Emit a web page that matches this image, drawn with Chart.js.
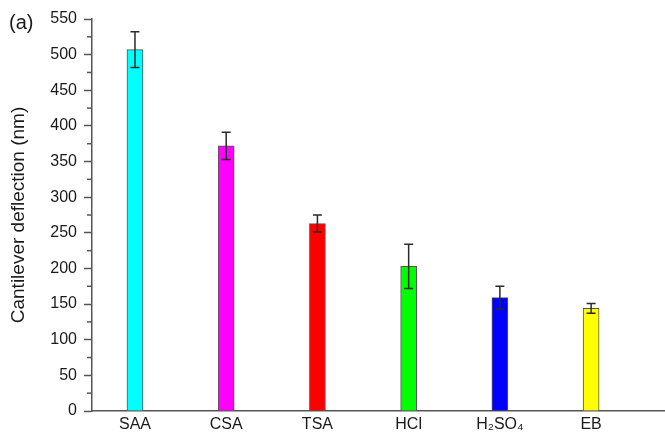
<!DOCTYPE html>
<html>
<head>
<meta charset="utf-8">
<script src="https://cdn.jsdelivr.net/npm/chart.js@4.4.0/dist/chart.umd.min.js"></script>
<style>
html,body{margin:0;padding:0;background:#fff;}
#wrap{width:665px;height:434px;position:relative;}
</style>
</head>
<body>
<div id="wrap"><canvas id="c" width="665" height="434"></canvas></div>
<script>
const categories = ['SAA', 'CSA', 'TSA', 'HCl', 'H\u2082SO\u2084', 'EB'];
const deflection = [507, 372, 263, 203, 159, 144];
const errors = [25, 19, 12, 31, 16, 7];
const colors = ['#00FFFF', '#FF00FF', '#FF0000', '#00FF00', '#0000FF', '#FFFF00'];
const yTicks = [0, 50, 100, 150, 200, 250, 300, 350, 400, 450, 500, 550];
const panelLabel = '(a)';
const yTitle = 'Cantilever deflection (nm)';

const FONT = "'Liberation Sans', Arial, sans-serif";
const AXIS = '#555555';
const TEXT = '#1a1a1a';

const errorBars = {
  id: 'errorBars',
  afterDatasetsDraw(chart) {
    const ctx = chart.ctx;
    const meta = chart.getDatasetMeta(0);
    const ys = chart.scales.y;
    ctx.save();
    ctx.strokeStyle = '#2a2a2a';
    ctx.lineWidth = 1.5;
    meta.data.forEach((bar, i) => {
      const x = bar.x;
      const yt = ys.getPixelForValue(deflection[i] + errors[i]);
      const yb = ys.getPixelForValue(deflection[i] - errors[i]);
      ctx.beginPath();
      ctx.moveTo(x, yt); ctx.lineTo(x, yb);
      ctx.moveTo(x - 4.5, yt); ctx.lineTo(x + 4.5, yt);
      ctx.moveTo(x - 4.5, yb); ctx.lineTo(x + 4.5, yb);
      ctx.stroke();
    });
    ctx.restore();
  },
  afterDraw(chart) {
    const ctx = chart.ctx;
    const ys = chart.scales.y;
    const left = chart.chartArea.left;
    ctx.save();
    ctx.strokeStyle = AXIS;
    ctx.lineWidth = 1.5;
    for (let i = 0; i < yTicks.length - 1; i++) {
      const v = (yTicks[i] + yTicks[i + 1]) / 2;
      const p = ys.getPixelForValue(v);
      ctx.beginPath();
      ctx.moveTo(left - 5, p); ctx.lineTo(left, p);
      ctx.stroke();
    }
    ctx.fillStyle = TEXT;
    ctx.font = '20px ' + FONT;
    ctx.textBaseline = 'middle';
    ctx.textAlign = 'left';
    ctx.fillText(panelLabel, 9, 23);
    ctx.restore();
  }
};

new Chart(document.getElementById('c'), {
  type: 'bar',
  data: {
    datasets: [{
      data: deflection.map((v, i) => ({ x: i, y: v })),
      backgroundColor: colors,
      borderColor: '#555555',
      borderWidth: 1,
      borderSkipped: 'start',
      barThickness: 16
    }]
  },
  options: {
    responsive: false,
    animation: false,
    events: [],
    layout: { padding: { top: 19, right: 0, left: 0, bottom: 0 } },
    plugins: { legend: { display: false }, tooltip: { enabled: false } },
    scales: {
      x: {
        type: 'linear',
        offset: false,
        min: -0.471,
        max: 5.81,
        afterBuildTicks(scale) { scale.ticks = categories.map((c, i) => ({ value: i })); },
        afterFit(scale) { scale.height = 23; },
        ticks: {
          callback: (v) => categories[v] ?? '',
          font: { family: FONT, size: 16 },
          color: TEXT,
          padding: 4,
          maxRotation: 0,
          autoSkip: false
        },
        grid: { display: false, drawTicks: false },
        border: { display: true, color: AXIS, width: 1.5 }
      },
      y: {
        min: 0,
        max: 550,
        afterBuildTicks(scale) { scale.ticks = yTicks.map(v => ({ value: v })); },
        afterFit(scale) { scale.width = 92; },
        ticks: {
          font: { family: FONT, size: 16 },
          color: TEXT,
          padding: 7
        },
        grid: { drawOnChartArea: false, drawTicks: true, tickLength: 8, tickColor: AXIS, tickWidth: 1.5 },
        border: { display: true, color: AXIS, width: 1.5 },
        title: {
          display: true,
          text: yTitle,
          font: { family: FONT, size: 19 },
          color: TEXT,
          padding: { top: 7, bottom: 0 }
        }
      }
    }
  },
  plugins: [errorBars]
});
</script>
</body>
</html>
